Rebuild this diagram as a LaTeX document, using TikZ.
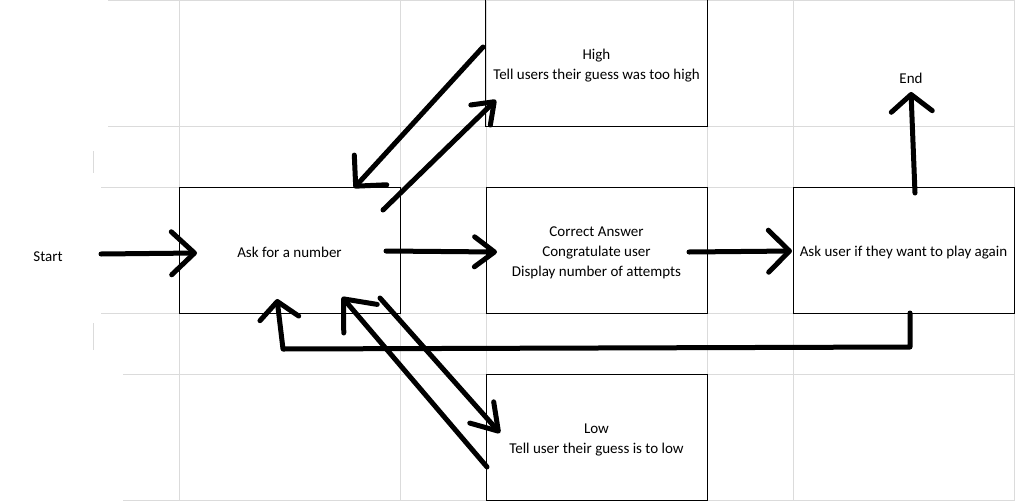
\documentclass[tikz,border=0pt]{standalone}
\usepackage{fontspec}
\setmainfont{Carlito}
\usetikzlibrary{arrows.meta,calc}
\tikzset{
  grid/.style={draw=black!14, line width=0.9pt},
  cell/.style={rectangle, minimum width=221pt, minimum height=126pt, inner sep=0pt},
  boxed/.style={cell, draw=black, line width=1pt},
  txt/.style={inner sep=0pt, align=center, font=\fontsize{15}{20}\selectfont},
  boxtext/.style={label={[txt, yshift=-2.5pt]center:{#1}}},
  plain/.style={txt},
  flow/.style={line width=5pt, line cap=round, line join=round, black},
}
\newcommand{\barb}[2]{-{Straight Barb[length=#1pt, width=#2pt, round]}}
\begin{document}
\begin{tikzpicture}[x=1pt, y=-1pt]
\useasboundingbox (0,0) rectangle (1015,501);
\fill[white] (0,0) rectangle (1015,501);
% spreadsheet grid
\foreach \x in {179,400,486,707,793,1014} \draw[grid] (\x,0) -- (\x,500);
\draw[grid] (108,0.5) -- (1015,0.5);
\draw[grid] (108,126) -- (1015,126);
\draw[grid] (101,187) -- (1015,187);
\draw[grid] (101,313) -- (1015,313);
\draw[grid] (123,374) -- (1015,374);
\draw[grid] (123,500) -- (1015,500);
\draw[grid] (93,151) -- (93,173);
\draw[grid] (93,323) -- (93,350);

% boxes
\node[cell, boxtext={High\\Tell users their guess was too high}] (high) at (596.5,63) {};
\draw[line width=1pt] (high.north west) -- (high.south west) -- (high.south east) -- (high.north east);
\node[boxed, boxtext={Ask for a number}] (ask) at (289.5,250) {};
\node[boxed, boxtext={Correct Answer\\Congratulate user\\Display number of attempts}] (correct) at (596.5,250) {};
\node[boxed, boxtext={Ask user if they want to play again}] (again) at (903.5,250) {};
\node[boxed, boxtext={Low\\Tell user their guess is to low}] (low) at (596.5,437) {};
\node[plain] (start) at (48,257) {Start};
\node[plain] (end) at (911,78) {End};

% connector end points
\coordinate (s0) at (101,254);   \coordinate (s1) at (197,253);
\coordinate (a0) at (386,251);   \coordinate (a1) at (497,252);
\coordinate (c0) at (689,252);   \coordinate (c1) at (792,251);
\coordinate (e0) at (915,193);   \coordinate (e1) at (911,92);
\coordinate (r0) at (910,313);   \coordinate (r1) at (910,347);
\coordinate (r2) at (283,349);   \coordinate (r3) at (277,299);
\coordinate (h0) at (483,47);    \coordinate (h1) at (354,188);
\coordinate (u0) at (383,210);   \coordinate (u1) at (496,100);
\coordinate (l0) at (487,467);   \coordinate (l1) at (342,297);
\coordinate (d0) at (380,298);   \coordinate (d1) at (500,433);

% connectors
\draw[flow, \barb{23}{43}] (s0) -- (s1);
\draw[flow, \barb{20}{30}] (a0) -- (a1);
\draw[flow, \barb{21}{42}] (c0) -- (c1);
\draw[flow, \barb{17}{41}] (e0) -- (e1);
\draw[flow, \barb{17}{39}] (r0) -- (r1) -- (r2) -- (r3);
\draw[flow, \barb{22}{44}] (h0) -- (h1);
\draw[flow, \barb{19}{28}] (u0) -- (u1);
\draw[flow, \barb{26}{44}] (l0) -- (l1);
\draw[flow, \barb{25}{32}] (d0) -- (d1);
\end{tikzpicture}
\end{document}
